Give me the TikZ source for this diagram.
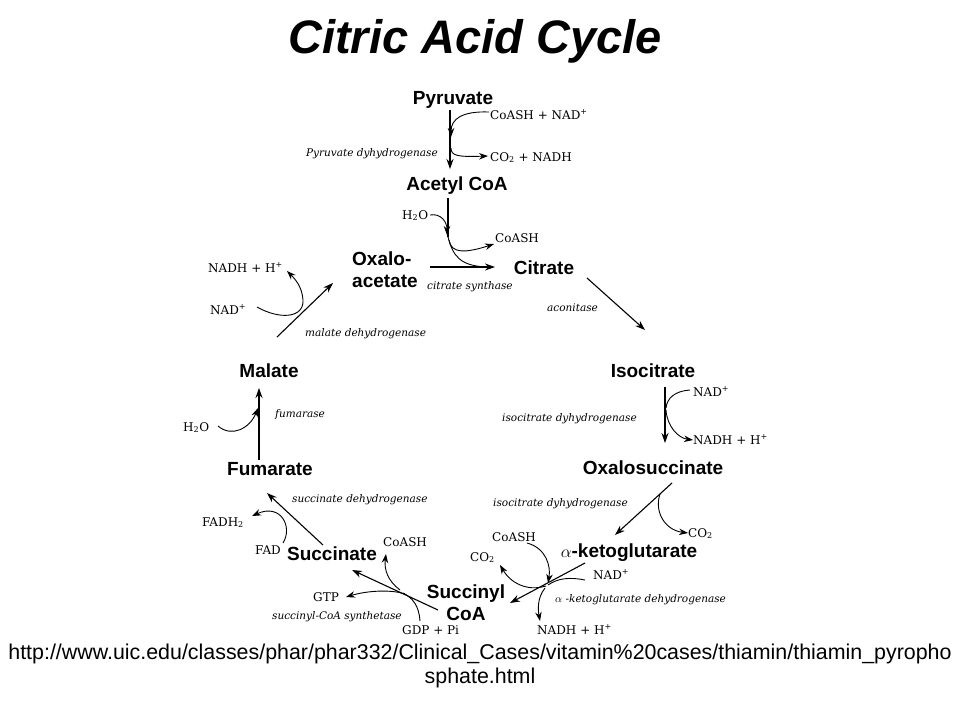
\documentclass[tikz,border=0pt]{standalone}
\usepackage{fontspec}
\setmainfont{Liberation Sans}
\newfontfamily\serlab{DejaVu Serif}
\usetikzlibrary{arrows.meta}
\begin{document}
\begin{tikzpicture}[x=1pt,y=-1pt,
  met/.style={font=\fontsize{19}{22}\selectfont\bfseries, inner sep=0pt},
  sml/.style={font=\serlab\fontsize{12}{14}\selectfont, inner sep=0pt, anchor=base west},
  enz/.style={font=\serlab\itshape\fontsize{10.5}{13}\selectfont, inner sep=0pt, anchor=base west},
  rx/.style={line width=1.1pt, -{Stealth[length=10pt,width=7pt]}},
  cv/.style={line width=0.9pt},
  cva/.style={line width=0.9pt, -{Stealth[length=9pt,width=6.5pt]}}]
\useasboundingbox (0,0) rectangle (960,720);
\fill[white] (0,0) rectangle (960,720);
% title
\node[inner sep=0pt, anchor=base, font=\fontsize{47}{50}\selectfont\bfseries\itshape] (title) at (475,53) {Citric Acid Cycle};
% metabolites
\node[met, anchor=base] (pyr) at (453,104) {Pyruvate};
\node[met, anchor=base] (acoa) at (457,190) {Acetyl CoA};
\node[met, anchor=base west, align=left] (oxa) at (352,287) {Oxalo-\\acetate};
\node[met, anchor=base] (cit) at (544,274) {Citrate};
\node[met, anchor=base] (iso) at (653,377) {Isocitrate};
\node[met, anchor=base] (oxs) at (653,474) {Oxalosuccinate};
\node[met, anchor=base] (akg) at (629,557) {{\mdseries$\alpha$}-ketoglutarate};
\node[met, anchor=base, align=center] (scoa) at (466,620) {Succinyl\\CoA};
\node[met, anchor=base] (succ) at (332,560) {Succinate};
\node[met, anchor=base] (fum) at (270,475) {Fumarate};
\node[met, anchor=base] (mal) at (269,377) {Malate};
% cofactors
\node[sml] (s1) at (490,119) {CoASH + NAD\textsuperscript{+}};
\node[sml] (s2) at (490,161) {CO\textsubscript{2} + NADH};
\node[sml] (s3) at (402,219) {H\textsubscript{2}O};
\node[sml] (s4) at (495,242) {CoASH};
\node[sml] (s5) at (208,272) {NADH + H\textsuperscript{+}};
\node[sml] (s6) at (210,314) {NAD\textsuperscript{+}};
\node[sml] (s7) at (693,396) {NAD\textsuperscript{+}};
\node[sml] (s8) at (693,444) {NADH + H\textsuperscript{+}};
\node[sml] (s9) at (688,537) {CO\textsubscript{2}};
\node[sml] (s10) at (492,541) {CoASH};
\node[sml] (s11) at (470,561) {CO\textsubscript{2}};
\node[sml] (s12) at (593,579) {NAD\textsuperscript{+}};
\node[sml] (s13) at (537,634) {NADH + H\textsuperscript{+}};
\node[sml] (s14) at (402,634) {GDP + Pi};
\node[sml] (s15) at (383,546) {CoASH};
\node[sml] (s16) at (313,601) {GTP};
\node[sml] (s17) at (202,526) {FADH\textsubscript{2}};
\node[sml] (s18) at (255,554) {FAD};
\node[sml] (s19) at (183,431) {H\textsubscript{2}O};
% enzymes
\node[enz, anchor=base east] (e1) at (438,156) {Pyruvate dyhydrogenase};
\node[enz] (e2) at (427,289) {citrate synthase};
\node[enz] (e3) at (547,311) {aconitase};
\node[enz] (e4) at (305,336) {malate dehydrogenase};
\node[enz] (e5) at (502,421) {isocitrate dyhydrogenase};
\node[enz] (e6) at (493,506) {isocitrate dyhydrogenase};
\node[enz] (e7) at (555,602) {$\alpha$ -ketoglutarate dehydrogenase};
\node[enz] (e8) at (292,502) {succinate dehydrogenase};
\node[enz] (e9) at (272,619) {succinyl-CoA synthetase};
\node[enz] (e10) at (275,417) {fumarase};
% url
\node[inner sep=0pt, anchor=base, align=center, font=\fontsize{21.4}{24}\selectfont] (url) at (480,683)
 {http://www.uic.edu/classes/phar/phar332/Clinical\_Cases/vitamin\%20cases/thiamin/thiamin\_pyropho\\sphate.html};
% coordinates
\coordinate (a1) at (450,110); \coordinate (a2) at (450,169);
\coordinate (b1) at (448,198); \coordinate (b2) at (448,237);
\coordinate (c1) at (430,267); \coordinate (c2) at (495,267);
\coordinate (d1) at (587,278); \coordinate (d2) at (645,330);
\coordinate (f1) at (665,387); \coordinate (f2) at (665,443);
\coordinate (g1) at (672,483); \coordinate (g2) at (615,535);
\coordinate (h1) at (585,563); \coordinate (h2) at (510,603);
\coordinate (i1) at (438,610); \coordinate (i2) at (352,570);
\coordinate (j1) at (323,545); \coordinate (j2) at (267,493);
\coordinate (k1) at (259,460); \coordinate (k2) at (259,388);
\coordinate (l1) at (277,337); \coordinate (l2) at (333,283);
% main arrows
\draw[rx] (a1) -- (a2);
\draw[line width=1.1pt] (b1) -- (b2);
\draw[rx] (c1) -- (c2);
\draw[rx] (d1) -- (d2);
\draw[rx] (f1) -- (f2);
\draw[rx] (g1) -- (g2);
\draw[rx] (h1) -- (h2);
\draw[rx] (i1) -- (i2);
\draw[rx] (j1) -- (j2);
\draw[rx] (k1) -- (k2);
\draw[rx] (l1) -- (l2);
% side curves
\coordinate (p1) at (489,112); \coordinate (p2) at (451,137);
\draw[cva] (p1) .. controls (462,111) and (451,119) .. (p2);
\coordinate (p3) at (451,148); \coordinate (p4) at (488,156);
\draw[cva] (p3) .. controls (451,156) and (458,157) .. (p4);
\coordinate (q1) at (430,215); \coordinate (q2) at (447,235);
\draw[cva] (q1) .. controls (441,213) and (447,222) .. (q2);
\coordinate (q3) at (449,240); \coordinate (q4) at (494,244);
\draw[cva] (q3) .. controls (451,254) and (466,253) .. (q4);
\coordinate (q5) at (487,267);
\draw[cv] (b2) .. controls (453,256) and (460,266) .. (q5);
\coordinate (r1) at (257,307); \coordinate (r2) at (303,300); \coordinate (r3) at (287,271);
\draw[cva] (r1) .. controls (280,320) and (304,318) .. (r2) .. controls (302,287) and (296,280) .. (r3);
\coordinate (t1) at (690,390); \coordinate (t2) at (666,408); \coordinate (t3) at (693,440);
\draw[cv] (t1) .. controls (675,391) and (667,398) .. (t2);
\draw[cva] (666,410) .. controls (667,426) and (678,438) .. (t3);
\coordinate (u1) at (660,494); \coordinate (u2) at (688,533);
\draw[cva] (u1) .. controls (654,512) and (665,530) .. (u2);
\coordinate (v1) at (527,543); \coordinate (v2) at (548,583);
\draw[cva] (v1) .. controls (546,548) and (551,566) .. (v2);
\coordinate (v3) at (546,586); \coordinate (v4) at (500,565);
\draw[cva] (v3) .. controls (526,592) and (510,582) .. (v4);
\coordinate (v5) at (585,580); \coordinate (v6) at (548,585);
\draw[cv] (v5) .. controls (570,577) and (558,578) .. (v6);
\coordinate (v7) at (545,588); \coordinate (v8) at (540,621);
\draw[cva] (v7) .. controls (537,598) and (538,610) .. (v8);
\coordinate (w1) at (405,594); \coordinate (w2) at (346,597);
\draw[cva] (w1) .. controls (390,589) and (366,591) .. (w2);
\coordinate (w3) at (400,590); \coordinate (w4) at (386,554);
\draw[cva] (w3) .. controls (388,581) and (384,570) .. (w4);
\coordinate (w5) at (420,621); \coordinate (w6) at (403,593);
\draw[cv] (w5) .. controls (419,606) and (413,598) .. (w6);
\coordinate (x1) at (283,543); \coordinate (x2) at (252,516);
\draw[cva] (x1) .. controls (293,527) and (281,503) .. (x2);
\coordinate (y1) at (218,426); \coordinate (y2) at (258,408);
\draw[cva] (y1) .. controls (232,438) and (250,428) .. (y2);
\end{tikzpicture}
\end{document}
